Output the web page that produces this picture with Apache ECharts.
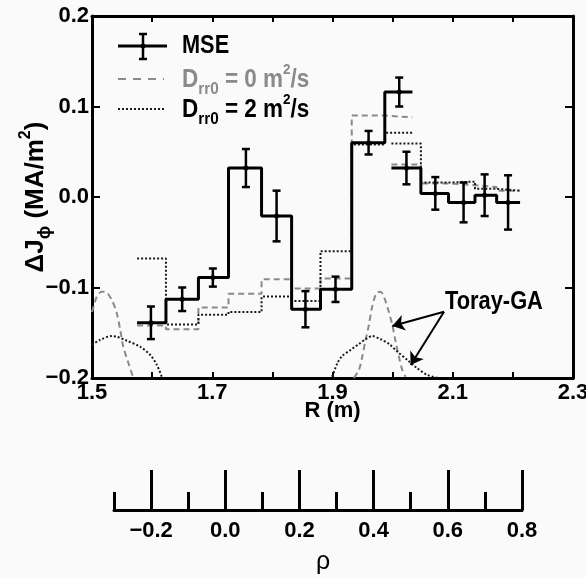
<!DOCTYPE html>
<html><head><meta charset="utf-8">
<script src="https://cdn.jsdelivr.net/npm/echarts@6/dist/echarts.min.js"></script>
<style>html,body{margin:0;padding:0;background:#fafafa}#c{width:586px;height:578px}</style>
</head><body><div id="c"></div>
<script>
// ---------- data ----------
const xLabelVals = [1.5, 1.7, 1.9, 2.1, 2.3];
const rhoMajor = [-0.2, 0.0, 0.2, 0.4, 0.6, 0.8];
const rhoMinor = [-0.3, -0.1, 0.1, 0.3, 0.5, 0.7];

// channel bin edges (R, m) for the two MSE groups
const edges1 = [1.575, 1.623, 1.677, 1.727, 1.782, 1.832, 1.880, 1.932, 1.987, 2.033];
const edges2 = [1.998, 2.047, 2.093, 2.137, 2.173, 2.212];

// MSE points
const mseR   = [1.598, 1.650, 1.701, 1.756, 1.807, 1.855, 1.905, 1.960, 2.011, 2.023, 2.071, 2.118, 2.153, 2.192];
const mseVal = [-0.139, -0.113, -0.089, 0.032, -0.021, -0.124, -0.102, 0.060, 0.116, 0.032, 0.004, -0.006, 0.002, -0.006];
const mseErr = [0.018, 0.013, 0.010, 0.021, 0.028, 0.020, 0.014, 0.013, 0.016, 0.018, 0.018, 0.022, 0.023, 0.030];
const mseStep1 = mseVal.slice(0, 9);
const mseStep2 = mseVal.slice(9);

// Drr0 = 0 (dashed)
const d0Step1 = [-0.142, -0.146, -0.122, -0.107, -0.091, -0.101, -0.090, 0.090, 0.088];
const d0Step2 = [0.036, 0.015, 0.013, 0.011, 0.007];
// Drr0 = 2 (dotted)
const d2Step1 = [-0.068, -0.141, -0.130, -0.127, -0.110, -0.115, -0.060, 0.058, 0.071];
const d2Step2 = [0.059, 0.016, 0.017, 0.009, 0.007];

// Toray-GA deposition profiles
const torayDashL_R = [1.500, 1.502, 1.508, 1.516, 1.5245, 1.533, 1.541, 1.547, 1.552, 1.5605, 1.568];
const torayDashL_V = [-0.127, -0.1227, -0.1102, -0.1046, -0.1057, -0.1138, -0.128, -0.147, -0.1654, -0.1834, -0.1985];
const torayDotL_R = [1.500, 1.513, 1.533, 1.541, 1.558, 1.580, 1.597, 1.608, 1.616];
const torayDotL_V = [-0.1635, -0.158, -0.1536, -0.1544, -0.1588, -0.1654, -0.1746, -0.1856, -0.1986];
const torayDashR_R = [1.9355, 1.944, 1.9495, 1.955, 1.9605, 1.966, 1.973, 1.980, 1.9855, 1.992, 1.9995, 2.005, 2.0105, 2.016, 2.0215];
const torayDashR_V = [-0.200, -0.191, -0.1765, -0.158, -0.1414, -0.1212, -0.1064, -0.1046, -0.1102, -0.123, -0.1414, -0.160, -0.1765, -0.191, -0.1986];
const torayDotR_R = [1.8995, 1.908, 1.916, 1.930, 1.944, 1.955, 1.966, 1.980, 1.994, 2.008, 2.0245, 2.041, 2.058, 2.0745];
const torayDotR_V = [-0.1986, -0.1838, -0.1757, -0.169, -0.1624, -0.1572, -0.1536, -0.1572, -0.1624, -0.171, -0.180, -0.1893, -0.1967, -0.1997];

// annotation arrows (data coordinates)
const arrowTail = [2.0855, -0.1267];
const arrowHeads = [[1.9995, -0.1425], [2.030, -0.1856]];

// ---------- helpers ----------
const FONT = '"Liberation Sans Narrow","Liberation Sans",Arial,sans-serif';
function steps(edges, vals) {
  const out = [];
  vals.forEach((v, i) => { out.push([edges[i], v]); out.push([edges[i + 1], v]); });
  return out;
}
function pairs(rs, vs) { return rs.map((r, i) => [r, vs[i]]); }

const GREY = '#8a8a8a';
const dashStyle = { color: GREY, width: 2, type: [6, 4] };
const dotStyle = { color: '#1a1a1a', width: 2, type: [2, 2] };

function lineSeries(data, style, z, smooth) {
  return { type: 'line', xAxisIndex: 0, yAxisIndex: 0, data: data, showSymbol: false, symbol: 'none',
    lineStyle: style, z: z || 2, smooth: smooth ? 0.3 : false, silent: true, animation: false };
}

const axisLbl = { fontFamily: FONT, fontWeight: 'bold', fontSize: 22, color: '#000' };
const noZero = { onZero: false, lineStyle: { color: '#000', width: 3 } };
const fmt = v => (v < -1e-9 ? '\u2212' : '') + Math.abs(v).toFixed(1);

const chart = echarts.init(document.getElementById('c'), null, { renderer: 'canvas' });
const option = {
  backgroundColor: '#fafafa',
  animation: false,
  grid: [
    { left: 92, top: 16, width: 481, height: 362, containLabel: false, outerBoundsMode: 'none' },
    { left: 114, top: 470, width: 408, height: 40, containLabel: false, outerBoundsMode: 'none' }
  ],
  xAxis: [
    { gridIndex: 0, type: 'value', min: 1.5, max: 2.3, interval: 0.1, position: 'bottom',
      axisLine: noZero,
      axisTick: { inside: true, length: 6, lineStyle: { color: '#000', width: 2 } },
      axisLabel: Object.assign({ customValues: xLabelVals, margin: 4, showMaxLabel: true, showMinLabel: true,
        hideOverlap: false, formatter: v => v.toFixed(1) }, axisLbl),
      splitLine: { show: false },
      name: 'R (m)', nameLocation: 'middle', nameGap: 22, nameMoveOverlap: false,
      nameTextStyle: { fontFamily: FONT, fontWeight: 'bold', fontSize: 22, color: '#000' } },
    { gridIndex: 0, type: 'value', min: 1.5, max: 2.3, interval: 0.1, position: 'top',
      axisLine: noZero,
      axisTick: { inside: true, length: 6, lineStyle: { color: '#000', width: 2 } },
      axisLabel: { show: false }, splitLine: { show: false } },
    { gridIndex: 1, type: 'value', min: -0.3, max: 0.8, interval: 0.1, position: 'bottom',
      axisLine: noZero,
      axisTick: { inside: true, length: 40, customValues: rhoMajor, lineStyle: { color: '#000', width: 3 } },
      axisLabel: Object.assign({ customValues: rhoMajor, margin: 10, formatter: fmt }, axisLbl),
      splitLine: { show: false },
      name: '\u03c1', nameLocation: 'middle', nameGap: 40, nameMoveOverlap: false,
      nameTextStyle: { fontFamily: '"Liberation Sans",Arial,sans-serif', fontSize: 25, color: '#000', padding: [0, 0, 0, 10] } },
    { gridIndex: 1, type: 'value', min: -0.3, max: 0.8, interval: 0.1, position: 'bottom',
      axisLine: { show: false, onZero: false },
      axisTick: { inside: true, length: 18, customValues: rhoMinor, lineStyle: { color: '#000', width: 3 } },
      axisLabel: { show: false }, splitLine: { show: false } }
  ],
  yAxis: [
    { gridIndex: 0, type: 'value', min: -0.2, max: 0.2, interval: 0.1, position: 'left',
      axisLine: noZero,
      axisTick: { inside: true, length: 8, lineStyle: { color: '#000', width: 2 } },
      axisLabel: Object.assign({ margin: 3, formatter: fmt }, axisLbl),
      splitLine: { show: false },
      name: '{a|\u0394J}{b|\u03d5}{a| (MA/m}{c|2}{a|)}', nameLocation: 'middle', nameGap: 38, nameMoveOverlap: false,
      nameTextStyle: { fontFamily: FONT, fontWeight: 'bold', fontSize: 26, color: '#000', lineHeight: 36,
        rich: {
          a: { fontFamily: FONT, fontWeight: 'bold', fontSize: 26, lineHeight: 36 },
          b: { fontFamily: FONT, fontWeight: 'bold', fontSize: 18, lineHeight: 16, verticalAlign: 'bottom' },
          c: { fontFamily: FONT, fontWeight: 'bold', fontSize: 16, lineHeight: 12, verticalAlign: 'top' }
        } } },
    { gridIndex: 0, type: 'value', min: -0.2, max: 0.2, interval: 0.1, position: 'right',
      axisLine: noZero,
      axisTick: { inside: true, length: 8, lineStyle: { color: '#000', width: 2 } },
      axisLabel: { show: false }, splitLine: { show: false } },
    { gridIndex: 1, type: 'value', min: 0, max: 1, show: false }
  ],
  series: [
    lineSeries(steps(edges1, d0Step1), dashStyle, 2),
    lineSeries(steps(edges2, d0Step2), dashStyle, 2),
    lineSeries(steps(edges1, d2Step1), dotStyle, 3),
    lineSeries(steps(edges2, d2Step2), dotStyle, 3),
    lineSeries(steps(edges1, mseStep1), { color: '#000', width: 3 }, 4),
    lineSeries(steps(edges2, mseStep2), { color: '#000', width: 3 }, 4),
    lineSeries(pairs(torayDashL_R, torayDashL_V), dashStyle, 2, true),
    lineSeries(pairs(torayDashR_R, torayDashR_V), dashStyle, 2, true),
    lineSeries(pairs(torayDotL_R, torayDotL_V), dotStyle, 2, true),
    Object.assign(lineSeries(pairs(torayDotR_R, torayDotR_V), dotStyle, 2, true), {
      markLine: { silent: true, animation: false, symbol: ['none', 'arrow'], symbolSize: 12,
        label: { show: false }, lineStyle: { color: '#000', width: 2, type: 'solid' },
        data: arrowHeads.map(h => [{ coord: arrowTail }, { coord: h }]) }
    }),
    { type: 'custom', xAxisIndex: 0, yAxisIndex: 0, z: 5, silent: true, animation: false,
      data: mseR.map((r, i) => [r, mseVal[i], mseErr[i]]),
      renderItem: function (params, api) {
        const x = api.value(0), y = api.value(1), e = api.value(2);
        const t = api.coord([x, y + e]), b = api.coord([x, y - e]), c = api.coord([x, y]);
        const w = 4;
        const st = { stroke: '#000', lineWidth: 2.5 };
        return { type: 'group', children: [
          { type: 'line', shape: { x1: t[0], y1: t[1], x2: b[0], y2: b[1] }, style: st },
          { type: 'line', shape: { x1: t[0] - w, y1: t[1], x2: t[0] + w, y2: t[1] }, style: st },
          { type: 'line', shape: { x1: b[0] - w, y1: b[1], x2: b[0] + w, y2: b[1] }, style: st },
          { type: 'circle', shape: { cx: c[0], cy: c[1], r: 2.5 }, style: { fill: '#000' } }
        ] };
      } }
  ],
  graphic: [
    // legend: MSE
    { type: 'line', shape: { x1: 118, y1: 46, x2: 167, y2: 46 }, style: { stroke: '#000', lineWidth: 3 } },
    { type: 'line', shape: { x1: 143, y1: 34, x2: 143, y2: 59 }, style: { stroke: '#000', lineWidth: 2.5 } },
    { type: 'line', shape: { x1: 139, y1: 34, x2: 147, y2: 34 }, style: { stroke: '#000', lineWidth: 2.5 } },
    { type: 'line', shape: { x1: 139, y1: 59, x2: 147, y2: 59 }, style: { stroke: '#000', lineWidth: 2.5 } },
    { type: 'circle', shape: { cx: 143, cy: 46, r: 2.5 }, style: { fill: '#000' } },
    { type: 'text', x: 182, y: 46, scaleX: 0.87, style: { text: 'MSE', font: 'bold 25px ' + FONT, fill: '#000', verticalAlign: 'middle', align: 'left' } },
    // legend: Drr0 = 0
    { type: 'line', shape: { x1: 118, y1: 79, x2: 164, y2: 79 }, style: { stroke: GREY, lineWidth: 2, lineDash: [8, 7] } },
    { type: 'text', x: 182, y: 80, scaleX: 0.9, style: {
      text: 'D{s|rr0}{n| = 0 m}{p|2}{n|/s}', font: 'bold 25px ' + FONT, fill: GREY, lineHeight: 36,
      verticalAlign: 'middle', align: 'left',
      rich: {
        n: { font: 'bold 25px ' + FONT, fill: GREY, lineHeight: 36 },
        s: { font: 'bold 17px ' + FONT, fill: GREY, lineHeight: 18, verticalAlign: 'bottom' },
        p: { font: 'bold 15px ' + FONT, fill: GREY, lineHeight: 14, verticalAlign: 'top' }
      } } },
    // legend: Drr0 = 2
    { type: 'line', shape: { x1: 118, y1: 109, x2: 164, y2: 109 }, style: { stroke: '#1a1a1a', lineWidth: 2, lineDash: [2, 2] } },
    { type: 'text', x: 182, y: 110, scaleX: 0.9, style: {
      text: 'D{s|rr0}{n| = 2 m}{p|2}{n|/s}', font: 'bold 25px ' + FONT, fill: '#000', lineHeight: 36,
      verticalAlign: 'middle', align: 'left',
      rich: {
        n: { font: 'bold 25px ' + FONT, fill: '#000', lineHeight: 36 },
        s: { font: 'bold 17px ' + FONT, fill: '#000', lineHeight: 18, verticalAlign: 'bottom' },
        p: { font: 'bold 15px ' + FONT, fill: '#000', lineHeight: 14, verticalAlign: 'top' }
      } } },
    // annotation label
    { type: 'text', x: 445, y: 302, scaleX: 0.84, style: { text: 'Toray-GA', font: 'bold 26px ' + FONT, fill: '#000', verticalAlign: 'middle', align: 'left' } }
  ]
};
chart.setOption(option);
</script>
</body></html>
